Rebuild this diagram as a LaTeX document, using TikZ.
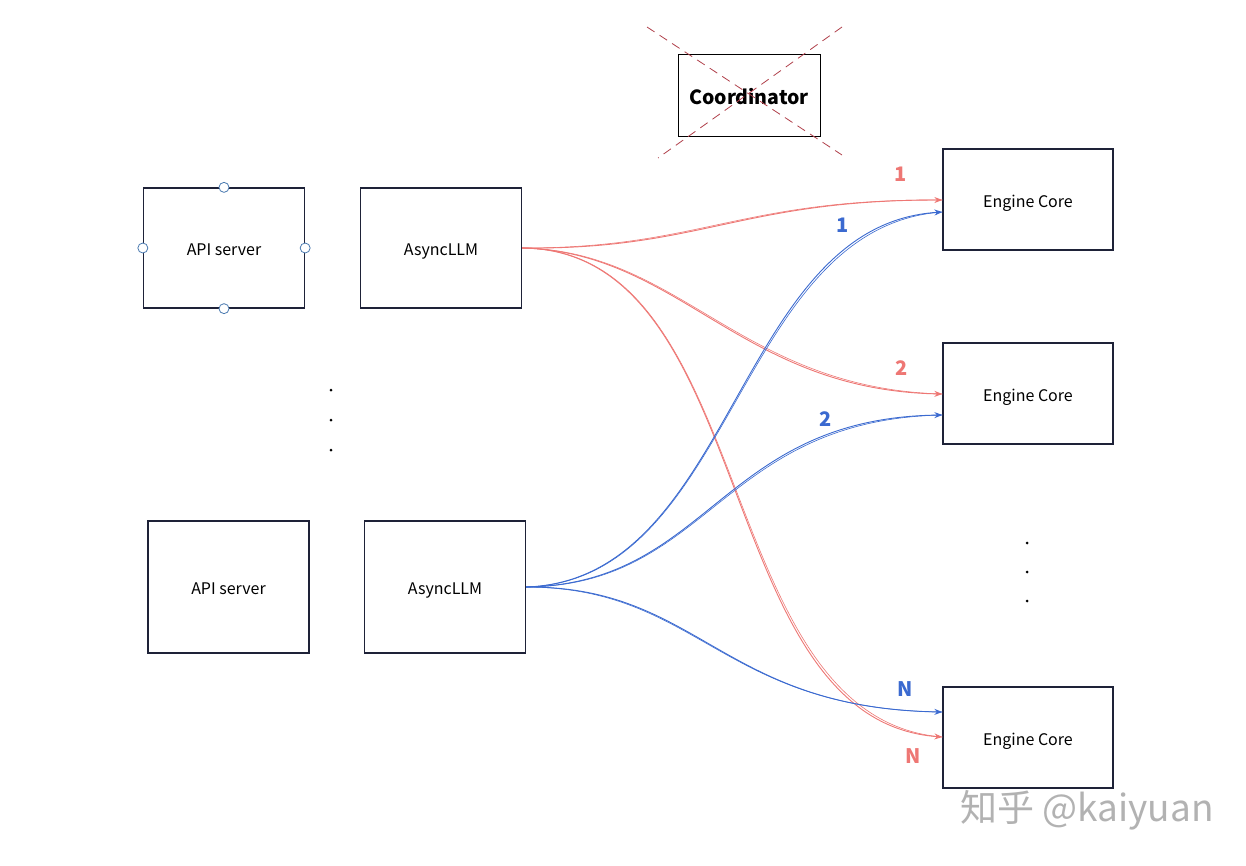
\documentclass[tikz,border=0pt]{standalone}
\usepackage{fontspec}
\setmainfont{Noto Sans CJK SC}
\usetikzlibrary{arrows.meta}
\definecolor{boxline}{HTML}{1E2238}
\definecolor{redl}{HTML}{EE7774}
\definecolor{bluel}{HTML}{3B6AD0}
\definecolor{crossc}{HTML}{B0404A}
\definecolor{circc}{HTML}{4A7AB0}
\tikzset{
  eng/.style={draw=boxline, line width=1.3pt, minimum width=170pt, minimum height=101pt, text height=15pt, text depth=0pt, font=\fontsize{16}{19}\selectfont},
  apibox/.style={draw=boxline, line width=1.3pt, minimum width=161pt, minimum height=120pt, text height=15pt, text depth=0pt, font=\fontsize{16}{19}\selectfont},
  apibox2/.style={draw=boxline, line width=1.3pt, minimum width=161pt, minimum height=132pt, text height=15pt, text depth=0pt, font=\fontsize{16}{19}\selectfont},
  handle/.style={circle, draw=circc, fill=white, line width=0.8pt, minimum size=10pt, inner sep=0pt},
  redarr/.style={draw=redl, line width=0.9pt, -{Stealth[length=8pt,width=6pt]}},
  bluearr/.style={draw=bluel, line width=0.9pt, -{Stealth[length=8pt,width=6pt]}},
  redghost/.style={draw=redl, line width=0.6pt, yshift=1.6pt},
  blueghost/.style={draw=bluel, line width=0.6pt, yshift=-1.6pt},
  lblr/.style={text=redl, font=\fontsize{20}{23}\selectfont\bfseries},
  lblb/.style={text=bluel, font=\fontsize{20}{23}\selectfont\bfseries},
  dotn/.style={circle, fill=black, minimum size=3pt, inner sep=0pt},
  xline/.style={draw=crossc, dashed, dash pattern=on 9pt off 6pt, line width=0.8pt}
}
\begin{document}
\begin{tikzpicture}[x=1pt,y=-1pt]
\useasboundingbox (0,0) rectangle (1246,865);
\fill[white] (0,0) rectangle (1246,865);

% Coordinator
\node[draw=black, line width=0.9pt, minimum width=142pt, minimum height=82pt, text height=19pt, text depth=0pt, font=\fontsize{19.5}{22}\selectfont\bfseries] (coord) at (749,95) {Coordinator};
\coordinate (x1a) at (647,27);
\coordinate (x1b) at (842,155);
\coordinate (x2a) at (842,27);
\coordinate (x2b) at (658,158);
\draw[xline] (x1a) -- (x1b);
\draw[xline] (x2a) -- (x2b);

% left column
\node[apibox] (api1) at (224,248) {API server};
\node[handle] (h1) at (api1.north) {};
\node[handle] (h2) at (api1.south) {};
\node[handle] (h3) at (api1.west) {};
\node[handle] (h4) at (api1.east) {};
\node[apibox] (llm1) at (441,248) {AsyncLLM};
\node[apibox2] (api2) at (228.5,587) {API server};
\node[apibox2] (llm2) at (445,587) {AsyncLLM};

\node[dotn] (d1) at (331,390) {};
\node[dotn] (d2) at (331,420) {};
\node[dotn] (d3) at (331,450) {};

% engine cores
\node[eng] (e1) at (1028,199.5) {Engine Core};
\node[eng] (e2) at (1028,393.5) {Engine Core};
\node[eng] (e3) at (1028,737.5) {Engine Core};

\node[dotn] (d4) at (1027,543) {};
\node[dotn] (d5) at (1027,572) {};
\node[dotn] (d6) at (1027,601) {};

% red connectors
\coordinate (r1) at (e1.west |- 0,200);
\coordinate (r2) at (e2.west |- 0,394);
\coordinate (r3) at (e3.west |- 0,737);
\draw[redarr] (llm1.east) .. controls (700,250) and (740,200) .. (r1);
\draw[redghost] (llm1.east) .. controls (700,250) and (740,200) .. (r1);
\draw[redarr] (llm1.east) .. controls (680,252) and (740,390) .. (r2);
\draw[redghost] (llm1.east) .. controls (680,252) and (740,390) .. (r2);
\draw[redarr] (llm1.east) .. controls (760,250) and (710,720) .. (r3);
\draw[redghost] (llm1.east) .. controls (760,250) and (710,720) .. (r3);

% blue connectors
\coordinate (b1) at (e1.west |- 0,212);
\coordinate (b2) at (e2.west |- 0,415);
\coordinate (b3) at (e3.west |- 0,712);
\draw[bluearr] (llm2.east) .. controls (735,580) and (735,225) .. (b1);
\draw[blueghost] (llm2.east) .. controls (735,580) and (735,225) .. (b1);
\draw[bluearr] (llm2.east) .. controls (710,584) and (720,418) .. (b2);
\draw[blueghost] (llm2.east) .. controls (710,584) and (720,418) .. (b2);
\draw[bluearr] (llm2.east) .. controls (700,586) and (720,708) .. (b3);
\draw[blueghost] (llm2.east) .. controls (700,586) and (720,708) .. (b3);

% labels
\node[lblr] (l1) at (901,174) {1};
\node[lblr] (l2) at (902,368) {2};
\node[lblr] (l3) at (913,756) {N};
\node[lblb] (m1) at (843,225) {1};
\node[lblb] (m2) at (826,419) {2};
\node[lblb] (m3) at (905,689) {N};

% watermark
\node[text=black!30, font=\fontsize{37}{42}\selectfont] (wm) at (1087,810) {知乎 @kaiyuan};
\end{tikzpicture}
\end{document}
